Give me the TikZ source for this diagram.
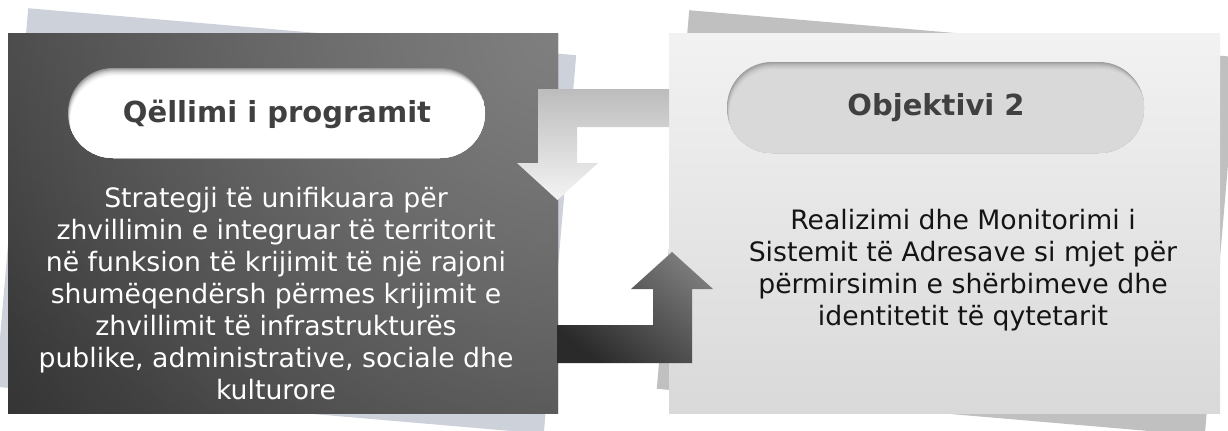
\documentclass[tikz,border=0pt]{standalone}
\usepackage{fontspec}
\usetikzlibrary{fadings}
\setmainfont{DejaVu Sans}
\definecolor{dkLight}{HTML}{808080}
\definecolor{dkBaseTop}{HTML}{444444}
\definecolor{dkBaseBot}{HTML}{282828}
\definecolor{ltTop}{HTML}{F2F2F2}
\definecolor{ltBot}{HTML}{D9D9D9}
\definecolor{shBlue}{HTML}{CDD1D9}
\definecolor{shGrey}{HTML}{C0C0C0}
\definecolor{titleGrey}{HTML}{404040}
\definecolor{bodyBlack}{HTML}{141414}
\definecolor{arTop}{HTML}{BCBCBC}
\definecolor{arBot}{HTML}{F4F4F4}
\definecolor{arDkTop}{HTML}{7A7A7A}
\definecolor{arDkBot}{HTML}{2A2A2A}
\definecolor{pillShL}{HTML}{969696}
\definecolor{pillShR}{HTML}{9C9C9C}
\definecolor{pillR}{HTML}{D9D9D9}
\tikzfading[name=radfade, inner color=transparent!0, outer color=transparent!100]
\begin{document}
\begin{tikzpicture}[x=0.5pt,y=-0.5pt,
  titletext/.style={font=\fontsize{14.5}{17}\selectfont\bfseries, text=titleGrey, inner sep=0pt},
  bodytext/.style={font=\fontsize{13.35}{16}\selectfont, align=center, inner sep=0pt, anchor=base},
  pillshape/.style={rounded corners=22.5pt}]
\useasboundingbox (0,0) rectangle (1228,430);
% tilted sheets behind
\fill[shBlue, rotate around={-4.9:(286,221)}] (11,31) rectangle (561,411);
\fill[shGrey, rotate around={-4.9:(947,223)}] (672,33) rectangle (1222,413);
% main boxes
\shade[top color=dkBaseTop, bottom color=dkBaseBot, shading angle=-30] (8,33) rectangle (558,413);
\begin{scope}
  \clip (8,33) rectangle (558,413);
  \fill[dkLight, path fading=radfade] (558,33) circle (780);
\end{scope}
\shade[top color=ltTop, bottom color=ltBot] (669,33) rectangle (1220,413);
% left pill with inner shadow
\begin{scope}
  \clip[pillshape] (68,68) rectangle (485,158);
  \fill[pillShL] (60,60) rectangle (495,170);
  \foreach \i/\g in {1/22,2/42,3/60,4/74,5/85,6/93,7/100}{
    \fill[pillshape, white!\g!pillShL] ({68+0.35*\i},{68+1.1*\i}) rectangle ({485+0.35*\i},{158+1.1*\i});
  }
\end{scope}
% right pill with inner shadow
\begin{scope}
  \clip[pillshape] (727,62) rectangle (1144,153);
  \fill[pillShR] (720,55) rectangle (1150,165);
  \foreach \i/\g in {1/22,2/42,3/60,4/74,5/85,6/93,7/100}{
    \fill[pillshape, pillR!\g!pillShR] ({727+0.35*\i},{62+1.1*\i}) rectangle ({1144+0.35*\i},{153+1.1*\i});
  }
\end{scope}
% titles
\node[titletext] (t1) at (277,114) {Qëllimi i programit};
\node[titletext] (t2) at (936,108) {Objektivi 2};
% body texts (anchor = baseline of last line)
\node[bodytext, text=white] (b1) at (276,399) {Strategji të unifikuara për\\zhvillimin e integruar të territorit\\në funksion të krijimit të një rajoni\\shumëqendërsh përmes krijimit e\\zhvillimit të infrastrukturës\\publike, administrative, sociale dhe\\kulturore};
\node[bodytext, text=bodyBlack] (b2) at (963,325) {Realizimi dhe Monitorimi i\\Sistemit të Adresave si mjet për\\përmirsimin e shërbimeve dhe\\identitetit të qytetarit};
% arrows
\shade[top color=arTop, bottom color=arBot]
  (669,89) -- (538,89) -- (538,163) -- (517,163) -- (557.5,200) -- (598,163) -- (577,163) -- (577,127) -- (669,127) -- cycle;
\shade[top color=arDkTop, bottom color=arDkBot, shading angle=-40]
  (557,363) -- (692,363) -- (692,289) -- (713,289) -- (672,252) -- (631,289) -- (653,289) -- (653,325) -- (557,325) -- cycle;
\end{tikzpicture}
\end{document}
